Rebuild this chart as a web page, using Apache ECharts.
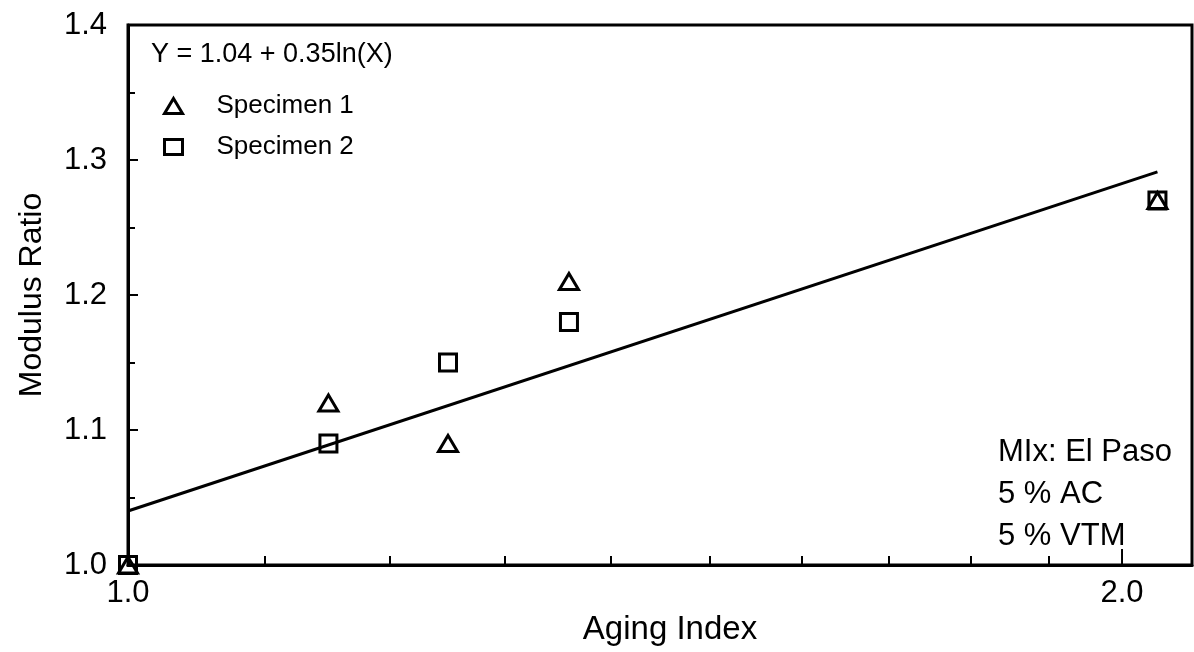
<!DOCTYPE html>
<html>
<head>
<meta charset="utf-8">
<title>Modulus Ratio vs Aging Index</title>
<script src="https://cdn.jsdelivr.net/npm/echarts@6/dist/echarts.min.js"></script>
<style>
  html, body { margin: 0; padding: 0; background: #fff; }
  #chart { width: 1194px; height: 652px; }
</style>
</head>
<body>
<div id="chart"></div>
<script>
// Aging index of each test (plotted on a log axis)
const agingIndex = [1.0, 1.15, 1.25, 1.36, 2.05];
// Modulus ratio measured on each specimen
const specimen1 = [1.00, 1.12, 1.09, 1.21, 1.27];
const specimen2 = [1.00, 1.09, 1.15, 1.18, 1.27];
// Regression Y = a + b ln(X) and the span it is drawn over
const fitCoef = [1.04, 0.35];
const fitRange = [1.0, 2.05];
// Axis ticks
const xLabelValues = [1.0, 2.0];
const xMinorTicks = [1.1, 1.2, 1.3, 1.4, 1.5, 1.6, 1.7, 1.8, 1.9];
const xMajorTicks = [2.0];
const seriesNames = ['Specimen 1', 'Specimen 2'];
const equationText = 'Y = 1.04 + 0.35ln(X)';
const noteLines = ['MIx: El Paso', '5 % AC', '5 % VTM'];

const FONT = '"Liberation Sans", Arial, Helvetica, sans-serif';
const INK = '#000';
const HOLLOW = 'rgba(0,0,0,0)';
const markerStyle = { color: HOLLOW, borderColor: INK, borderWidth: 3, opacity: 1 };

const pairs = (xs, ys) => xs.map((x, i) => [x, ys[i]]);
const fitLine = fitRange.map(x => [x, fitCoef[0] + fitCoef[1] * Math.log(x)]);

const chart = echarts.init(document.getElementById('chart'), null, { renderer: 'canvas' });

chart.setOption({
  animation: false,
  backgroundColor: '#fff',
  textStyle: { fontFamily: FONT, color: INK },
  title: {
    text: equationText,
    left: 151,
    top: 41,
    padding: 0,
    textStyle: { fontFamily: FONT, fontSize: 27, fontWeight: 'normal', color: INK }
  },
  legend: {
    data: seriesNames.map(name => ({ name, itemStyle: markerStyle })),
    orient: 'vertical',
    left: 163,
    top: 93,
    padding: 0,
    itemWidth: 18,
    itemHeight: 15,
    itemGap: 15,
    selectedMode: false,
    itemStyle: markerStyle,
    textStyle: { fontFamily: FONT, fontSize: 26, color: INK, lineHeight: 26, padding: [0, 0, 0, 29] }
  },
  grid: {
    left: 128, right: 2, top: 25, bottom: 87,
    show: true, borderColor: INK, borderWidth: 3,
    containLabel: false
  },
  xAxis: {
    type: 'log',
    logBase: 10,
    min: 1.0,
    max: 2.1,
    name: 'Aging Index',
    nameLocation: 'middle',
    nameGap: 42,
    nameTextStyle: { fontFamily: FONT, fontSize: 33, color: INK, padding: [0, 0, 0, 20] },
    axisLine: { show: true, lineStyle: { color: INK, width: 3 } },
    axisTick: {
      show: true, inside: true, length: 9,
      customValues: xMinorTicks,
      lineStyle: { color: INK, width: 2 }
    },
    axisLabel: {
      customValues: xLabelValues,
      formatter: v => Number(v).toFixed(1),
      fontFamily: FONT, fontSize: 31, color: INK, margin: 13
    },
    splitLine: { show: false },
    minorTick: { show: false },
    minorSplitLine: { show: false }
  },
  yAxis: {
    type: 'value',
    min: 1.0,
    max: 1.4,
    interval: 0.1,
    name: 'Modulus Ratio',
    nameLocation: 'middle',
    nameGap: 80,
    nameTextStyle: { fontFamily: FONT, fontSize: 32, color: INK },
    axisLine: { show: true, lineStyle: { color: INK, width: 3 } },
    axisTick: { show: true, inside: true, length: 10, lineStyle: { color: INK, width: 2 } },
    minorTick: { show: true, splitNumber: 2, length: 7, lineStyle: { color: INK, width: 2 } },
    axisLabel: {
      formatter: v => Number(v).toFixed(1),
      fontFamily: FONT, fontSize: 31, color: INK, margin: 21
    },
    splitLine: { show: false }
  },
  series: [
    {
      name: 'fit',
      type: 'line',
      data: fitLine,
      symbol: 'none',
      lineStyle: { color: INK, width: 3 },
      silent: true,
      z: 2
    },
    {
      name: seriesNames[0],
      type: 'scatter',
      data: pairs(agingIndex, specimen1),
      symbol: 'triangle',
      symbolSize: [19, 16],
      itemStyle: markerStyle,
      z: 3
    },
    {
      name: seriesNames[1],
      type: 'scatter',
      data: pairs(agingIndex, specimen2),
      symbol: 'rect',
      symbolSize: 17,
      itemStyle: markerStyle,
      z: 4
    },
    {
      // longer tick mark at the labelled 2.0 position
      name: 'majorTick',
      type: 'scatter',
      data: xMajorTicks.map(x => [x, 1.0]),
      symbol: 'rect',
      symbolSize: [2, 16],
      symbolOffset: [0, -8],
      itemStyle: { color: INK, opacity: 1 },
      silent: true,
      z: 5
    }
  ],
  graphic: [
    {
      type: 'text',
      left: 998,
      top: 431,
      style: {
        text: noteLines.join('\n'),
        font: '31px ' + FONT,
        lineHeight: 42,
        fill: INK
      }
    }
  ]
});
</script>
</body>
</html>
